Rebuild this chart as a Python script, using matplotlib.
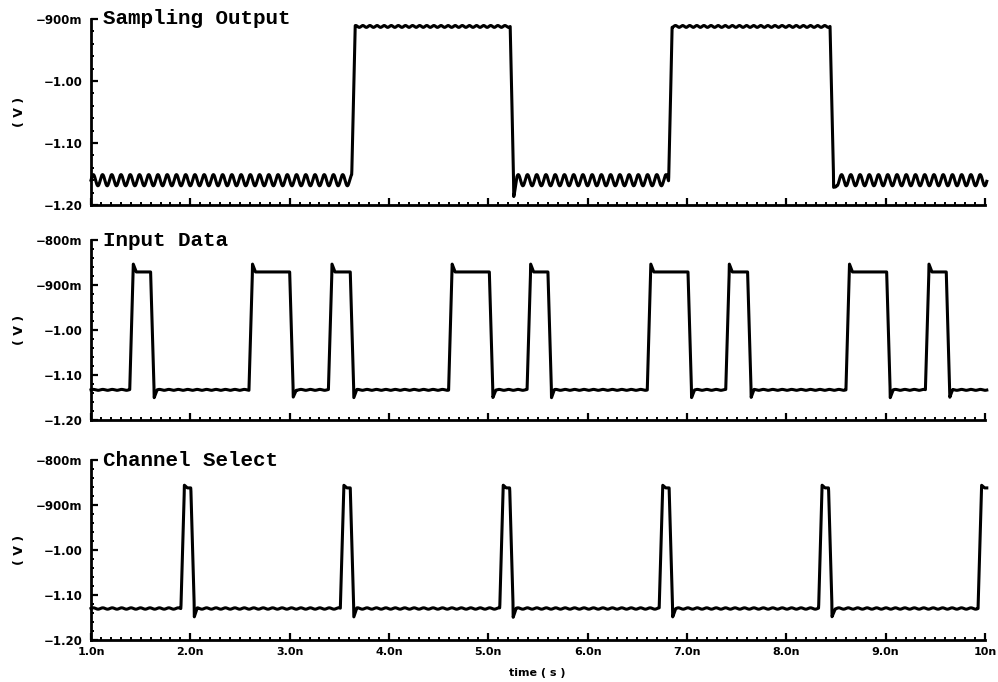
import numpy as np
import matplotlib
matplotlib.use("Agg")
import matplotlib.pyplot as plt
from matplotlib.ticker import MultipleLocator, FixedLocator, NullFormatter

# ---------------- data (time in ns, voltage in V) ----------------
t_start, t_end = 1.0, 10.02

# Sampling Output
samp_rise = [3.625, 6.815]
samp_fall = [5.220, 8.440]
samp_low = -1.160
samp_high = -0.912
samp_undershoot = -1.178
samp_ripple_period = 0.093
samp_ripple_amp = 0.009
samp_high_ripple_amp = 0.0015

# Input Data
data_rise = [1.39, 2.59, 3.39, 4.60, 5.39, 6.60, 7.39, 8.60, 9.40]
data_fall = [1.60, 3.00, 3.61, 5.01, 5.60, 7.01, 7.61, 9.01, 9.61]
data_low = -1.133
data_high = -0.871
data_overshoot = -0.853
data_undershoot = -1.150
data_ripple_amp = 0.001

# Channel Select
sel_rise = [1.905, 3.510, 5.115, 6.720, 8.325, 9.930]
sel_fall = [2.005, 3.610, 5.215, 6.820, 8.425, 10.10]
sel_low = -1.130
sel_high = -0.862
sel_overshoot = -0.856
sel_undershoot = -1.148
sel_ripple_amp = 0.0015

ripple_period = 0.095
edge_time = 0.035

titles = ["Sampling Output", "Input Data", "Channel Select"]
x_ticks = [1, 2, 3, 4, 5, 6, 7, 8, 9, 10]
x_ticklabels = ["1.0n", "2.0n", "3.0n", "4.0n", "5.0n", "6.0n", "7.0n", "8.0n", "9.0n", "10n"]
y_ticks_top = [-1.2, -1.1, -1.0, -0.9]
y_ticklabels_top = ["\u22121.20", "\u22121.10", "\u22121.00", "\u2212900m"]
y_ticks = [-1.2, -1.1, -1.0, -0.9, -0.8]
y_ticklabels = ["\u22121.20", "\u22121.10", "\u22121.00", "\u2212900m", "\u2212800m"]


def waveform(t, rises, falls, low, high, over, under, low_amp, low_period, high_amp=0.0):
    hi = np.zeros_like(t)
    v_extra = np.zeros_like(t)
    for r, f in zip(rises, falls):
        hi += np.interp(t, [r, r + edge_time, f, f + edge_time], [0, 1, 1, 0], left=0, right=0)
        d = t - (r + edge_time)
        v_extra += np.where((d >= 0) & (t < f), (over - high) * np.clip(1 - d / 0.03, 0, 1), 0)
        d2 = t - (f + edge_time)
        v_extra += np.where(d2 >= 0, (under - low) * np.clip(1 - d2 / 0.03, 0, 1), 0)
    hi = np.clip(hi, 0, 1)
    v = low + (high - low) * hi + v_extra
    phase = 2 * np.pi * (t - t_start) / low_period
    v += (1 - hi) * low_amp * np.sin(phase)
    v += hi * high_amp * np.sin(phase * 1.3)
    return v


t = np.arange(t_start, t_end, 0.002)
waves = [
    waveform(t, samp_rise, samp_fall, samp_low, samp_high, samp_high, samp_undershoot,
             samp_ripple_amp, samp_ripple_period, samp_high_ripple_amp),
    waveform(t, data_rise, data_fall, data_low, data_high, data_overshoot, data_undershoot,
             data_ripple_amp, ripple_period),
    waveform(t, sel_rise, sel_fall, sel_low, sel_high, sel_overshoot, sel_undershoot,
             sel_ripple_amp, ripple_period),
]

# ---------------- figure ----------------
W, H = 998, 682
fig = plt.figure(figsize=(W / 100, H / 100), dpi=100)
fig.patch.set_facecolor("white")

panels = [(19, 205, (-1.2, -0.9)), (240, 420, (-1.2, -0.8)), (460, 640, (-1.2, -0.8))]
left_px, right_px = 91, 985

plt.rcParams["font.family"] = ["DejaVu Sans"]

for i, ((top, bot, ylim), wave, title) in enumerate(zip(panels, waves, titles)):
    ax = fig.add_axes([left_px / W, (H - bot) / H, (right_px - left_px) / W, (bot - top) / H])
    ax.plot(t, wave, color="black", lw=2.2, clip_on=False, solid_joinstyle="round")
    ax.set_xlim(1.0, 10.0)
    ax.set_ylim(*ylim)
    for s in ["top", "right"]:
        ax.spines[s].set_visible(False)
    for s in ["left", "bottom"]:
        ax.spines[s].set_linewidth(2.0)
    ax.xaxis.set_major_locator(FixedLocator(x_ticks))
    ax.xaxis.set_minor_locator(MultipleLocator(0.1))
    if i == 0:
        ax.yaxis.set_major_locator(FixedLocator(y_ticks_top))
        ax.set_yticklabels(y_ticklabels_top)
    else:
        ax.yaxis.set_major_locator(FixedLocator(y_ticks))
        ax.set_yticklabels(y_ticklabels)
    ax.yaxis.set_minor_locator(MultipleLocator(0.02))
    ax.tick_params(which="major", direction="in", length=5, width=1.6, pad=6,
                   labelsize=8.5)
    ax.tick_params(which="minor", direction="in", length=2.5, width=1.4)
    for lab in ax.get_yticklabels():
        lab.set_fontweight("bold")
    if i == 2:
        ax.set_xticklabels(x_ticklabels)
        for lab in ax.get_xticklabels():
            lab.set_fontweight("bold")
            lab.set_fontsize(8)
        ax.tick_params(axis="x", pad=5)
    else:
        ax.xaxis.set_major_formatter(NullFormatter())
    ax.text(0.0134, 1.0, title, transform=ax.transAxes, ha="left", va="center",
            fontsize=15, fontweight="bold", family="Liberation Mono")
    fig.text(19 / W, 1 - ((top + bot) / 2) / H, "( V )", rotation=90, ha="center",
             va="center", fontsize=9, fontweight="bold")

fig.text(537 / W, 1 - 673 / H, "time ( s )", ha="center", va="center",
         fontsize=8, fontweight="bold")

fig.savefig("out.png", dpi=100, facecolor="white")
